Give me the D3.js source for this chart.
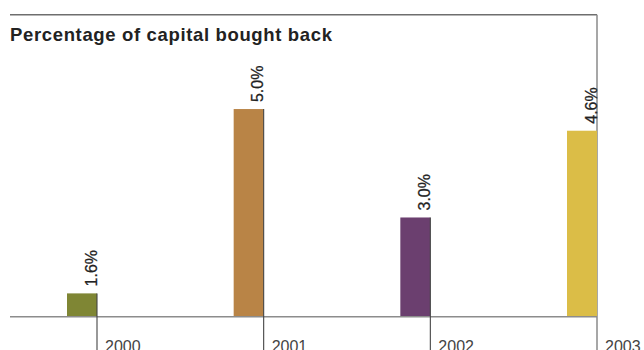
<!DOCTYPE html>
<html>
<head>
<meta charset="utf-8">
<script src="https://cdn.jsdelivr.net/npm/d3@7"></script>
<style>
  html, body { margin: 0; padding: 0; background: #fff; }
  svg { display: block; }
  text { font-family: "Liberation Sans", Arial, Helvetica, sans-serif; }
</style>
</head>
<body>
<div id="chart"></div>
<script>
// Share buyback data
const years = ["2000", "2001", "2002", "2003"];
const values = [1.6, 5.0, 3.0, 4.6];
const labels = ["1.6%", "5.0%", "3.0%", "4.6%"];
const colors = ["#7f8634", "#b98446", "#6b3f6f", "#dbbd47"];
const title = "Percentage of capital bought back";

const W = 644, H = 350;
const plotLeft = 10, plotRight = 597, plotTop = 14.7, plotBase = 316.7;
const barW = 30;

const svg = d3.select("#chart").append("svg")
  .attr("width", W).attr("height", H);

// Each bar ends on its year's tick; the axis starts above zero
const x = d3.scalePoint().domain(years).range([97, plotRight]);
const y = d3.scaleLinear().domain([1.17, 6.74]).range([plotBase, plotTop]);

// Frame: top rule and right edge
svg.append("line")
  .attr("x1", plotLeft).attr("x2", plotRight)
  .attr("y1", plotTop).attr("y2", plotTop)
  .attr("stroke", "#6e6e6e").attr("stroke-width", 1.4);
svg.append("line")
  .attr("x1", plotRight).attr("x2", plotRight)
  .attr("y1", plotTop).attr("y2", H)
  .attr("stroke", "#8a8a8a").attr("stroke-width", 1.5);

// Title
svg.append("text")
  .attr("x", plotLeft).attr("y", 40.7)
  .attr("font-size", 18.5).attr("font-weight", "bold")
  .attr("fill", "#222")
  .attr("textLength", 322).attr("lengthAdjust", "spacing")
  .text(title);

const data = years.map((yr, i) => ({ yr, v: values[i], label: labels[i], c: colors[i] }));

// Bars
svg.selectAll("rect.bar").data(data).join("rect")
  .attr("class", "bar")
  .attr("x", d => x(d.yr) - barW)
  .attr("y", d => y(d.v))
  .attr("width", barW)
  .attr("height", d => plotBase - y(d.v))
  .attr("fill", d => d.c);

// Baseline
svg.append("line")
  .attr("x1", plotLeft).attr("x2", plotRight)
  .attr("y1", plotBase).attr("y2", plotBase)
  .attr("stroke", "#8c8c8c").attr("stroke-width", 1.5);

// Tick rules: from each bar's top down past the baseline
svg.selectAll("line.tick").data(data.slice(0, 3)).join("line")
  .attr("class", "tick")
  .attr("x1", d => x(d.yr)).attr("x2", d => x(d.yr))
  .attr("y1", d => y(d.v)).attr("y2", H)
  .attr("stroke", "#444").attr("stroke-width", 1.1);

// Value labels, rotated, above each bar
svg.selectAll("text.val").data(data).join("text")
  .attr("class", "val")
  .attr("transform", d => `translate(${x(d.yr) - 0.5},${y(d.v) - 7}) rotate(-90)`)
  .attr("font-size", 16)
  .attr("fill", "#222")
  .attr("stroke", "#222").attr("stroke-width", 0.25)
  .text(d => d.label);

// Year labels
svg.selectAll("text.year").data(data).join("text")
  .attr("class", "year")
  .attr("x", d => x(d.yr) + 8)
  .attr("y", 351.5)
  .attr("font-size", 16)
  .attr("fill", "#444")
  .text(d => d.yr);
</script>
</body>
</html>
